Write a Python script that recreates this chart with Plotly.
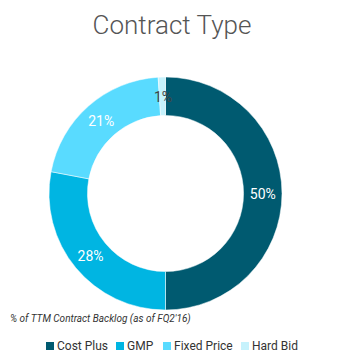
import plotly.graph_objects as go

categories = ["Cost Plus", "GMP", "Fixed Price", "Hard Bid"]
values = [50, 28, 21, 1]
colors = ["#005A70", "#00B5E2", "#59DBFF", "#C6F2FC"]
text_colors = ["#FFFFFF", "#FFFFFF", "#FFFFFF", "#444444"]
text_positions = ["inside", "inside", "inside", "none"]

W, H = 344, 363
total = sum(values)

fig = go.Figure(go.Pie(
    labels=categories,
    values=values,
    hole=0.67,
    sort=False,
    direction="clockwise",
    rotation=0,
    marker=dict(colors=colors, line=dict(color="#FFFFFF", width=0.5)),
    textinfo="percent",
    texttemplate="%{percent:.0%}",
    textposition=text_positions,
    insidetextorientation="horizontal",
    insidetextfont=dict(color=text_colors, size=14, family="Roboto"),
    domain=dict(x=[49 / W, 282 / W], y=[(H - 310) / H, (H - 77) / H]),
    showlegend=False,
))

annotations = [
    dict(text="<i>% of TTM Contract Backlog (as of FQ2'16)</i>", x=8 / W, y=1 - 319 / H,
         xref="paper", yref="paper", xanchor="left", yanchor="middle", showarrow=False,
         font=dict(family="Roboto", size=10, color="#333333")),
    # small-slice label that the reference draws at full size near the top of the ring
    dict(text=f"{round(values[3] / total * 100)}%", x=163 / W, y=1 - 97 / H,
         xref="paper", yref="paper", xanchor="center", yanchor="middle", showarrow=False,
         font=dict(family="Roboto", size=14, color=text_colors[3])),
]

# custom one-row legend (plotly's native horizontal legend wraps at this width)
legend_x = [46, 116, 163, 241]
shapes = []
for cat, col, lx in zip(categories, colors, legend_x):
    shapes.append(dict(type="rect", xref="paper", yref="paper",
                       x0=lx / W, x1=(lx + 8) / W, y0=1 - 350 / H, y1=1 - 342 / H,
                       fillcolor=col, line=dict(width=0)))
    annotations.append(dict(text=cat, x=(lx + 9) / W, y=1 - 345.5 / H, xref="paper", yref="paper",
                            xanchor="left", yanchor="middle", showarrow=False,
                            font=dict(family="Roboto", size=12, color="#333333")))

fig.update_layout(
    width=W, height=H,
    margin=dict(l=0, r=0, t=0, b=0),
    paper_bgcolor="white",
    plot_bgcolor="white",
    title=dict(text="Contract Type", x=0.5, xanchor="center", y=1 - 25 / H, yanchor="middle",
               font=dict(family="Roboto", size=26, color="#555555", weight=300)),
    showlegend=False,
    annotations=annotations,
    shapes=shapes,
)

fig.write_html("out.html")
